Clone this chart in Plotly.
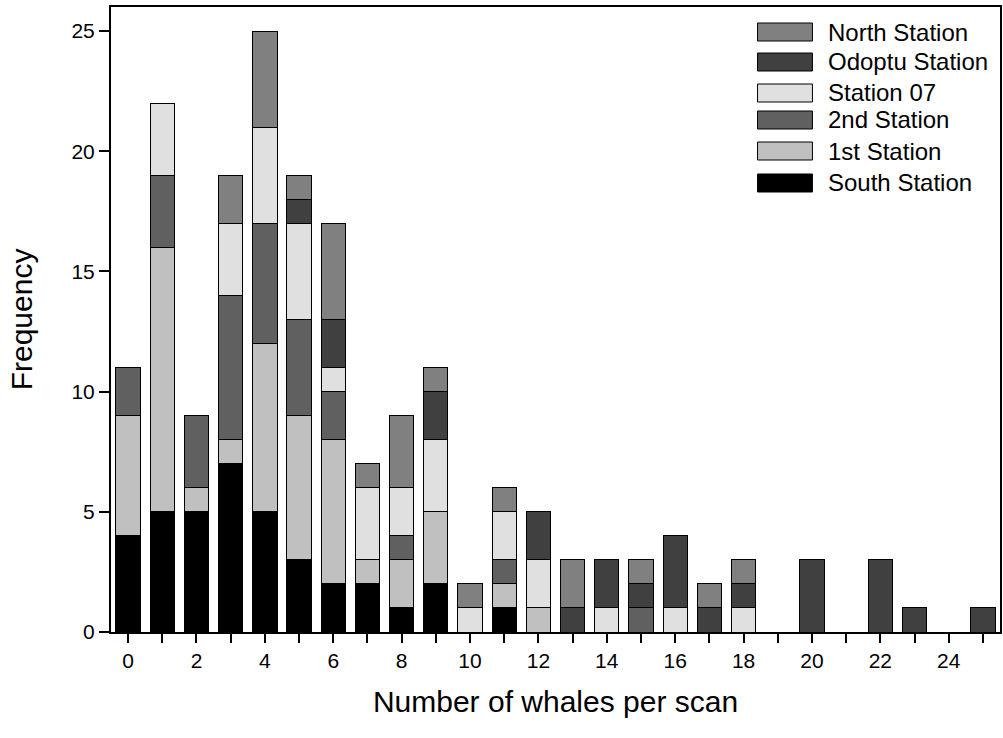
import plotly.graph_objects as go

# Number of whales seen per scan (0..25)
whales = list(range(26))

# Frequency per station, bottom of the stack first
south  = [4, 5, 5, 7, 5, 3, 2, 2, 1, 2, 0, 1, 0, 0, 0, 0, 0, 0, 0, 0, 0, 0, 0, 0, 0, 0]
first  = [5, 11, 1, 1, 7, 6, 6, 1, 2, 3, 0, 1, 1, 0, 0, 0, 0, 0, 0, 0, 0, 0, 0, 0, 0, 0]
second = [2, 3, 3, 6, 5, 4, 2, 0, 1, 0, 0, 1, 0, 0, 0, 1, 0, 0, 0, 0, 0, 0, 0, 0, 0, 0]
st07   = [0, 3, 0, 3, 4, 4, 1, 3, 2, 3, 1, 2, 2, 0, 1, 0, 1, 0, 1, 0, 0, 0, 0, 0, 0, 0]
odoptu = [0, 0, 0, 0, 0, 1, 2, 0, 0, 2, 0, 0, 2, 1, 2, 1, 3, 1, 1, 0, 3, 0, 3, 1, 0, 1]
north  = [0, 0, 0, 2, 4, 1, 4, 1, 3, 1, 1, 1, 0, 2, 0, 1, 0, 1, 1, 0, 0, 0, 0, 0, 0, 0]

names  = ["South Station", "1st Station", "2nd Station", "Station 07", "Odoptu Station", "North Station"]
series = [south, first, second, st07, odoptu, north]
colors = ["#000000", "#c0c0c0", "#606060", "#e0e0e0", "#404040", "#808080"]

y_ticks = [0, 5, 10, 15, 20, 25]
x_ticks = whales
x_labels = [str(v) if v % 2 == 0 else "" for v in whales]

FONT = "Liberation Sans, Arial, sans-serif"

fig = go.Figure()
for name, vals, col in zip(names, series, colors):
    fig.add_trace(go.Bar(
        x=whales,
        y=[v if v else None for v in vals],
        name=name,
        marker=dict(color=col, line=dict(color="#000000", width=1)),
        showlegend=False,
    ))

# Key: swatches plus labels, top entry = top of stack
W_PLOT = 891.0
H_PLOT = 625.0
def px_x(p):
    return (p - 111.0) / W_PLOT

def px_y(p):
    return (632.0 - p) / H_PLOT

row_centers = [32, 62, 93, 120, 151, 183]
for i, (name, col) in enumerate(zip(names[::-1], colors[::-1])):
    cy = row_centers[i]
    fig.add_shape(
        type="rect", xref="paper", yref="paper",
        x0=px_x(759), x1=px_x(814), y0=px_y(cy + 9), y1=px_y(cy - 9),
        fillcolor=col, line=dict(color="#000000", width=1),
    )
    fig.add_annotation(
        xref="paper", yref="paper", x=px_x(828), y=px_y(cy),
        xanchor="left", yanchor="middle", text=name, showarrow=False,
        font=dict(family=FONT, size=24, color="#000000"),
    )

fig.update_layout(
    barmode="stack",
    bargap=0.29,
    width=1003,
    height=738,
    margin=dict(l=111, r=1, t=7, b=106),
    paper_bgcolor="#ffffff",
    plot_bgcolor="#ffffff",
    font=dict(family=FONT, size=21, color="#000000"),
    xaxis=dict(
        range=[-0.5, 25.5],
        tickmode="array", tickvals=x_ticks, ticktext=x_labels,
        ticks="outside", ticklen=9, tickwidth=1.5, tickcolor="#000000",
        showline=True, linecolor="#000000", linewidth=2, mirror=True,
        showgrid=False, zeroline=False,
        tickfont=dict(family=FONT, size=21, color="#000000"),
        title=dict(text="Number of whales per scan", font=dict(family=FONT, size=30), standoff=20),
    ),
    yaxis=dict(
        range=[0, 26],
        tickmode="array", tickvals=y_ticks,
        ticks="outside", ticklen=10, tickwidth=1.5, tickcolor="#000000",
        showline=True, linecolor="#000000", linewidth=2, mirror=True,
        showgrid=False, zeroline=False,
        tickfont=dict(family=FONT, size=21, color="#000000"),
        title=dict(text="Frequency", font=dict(family=FONT, size=30), standoff=30),
    ),
)

fig.write_html("out.html")
